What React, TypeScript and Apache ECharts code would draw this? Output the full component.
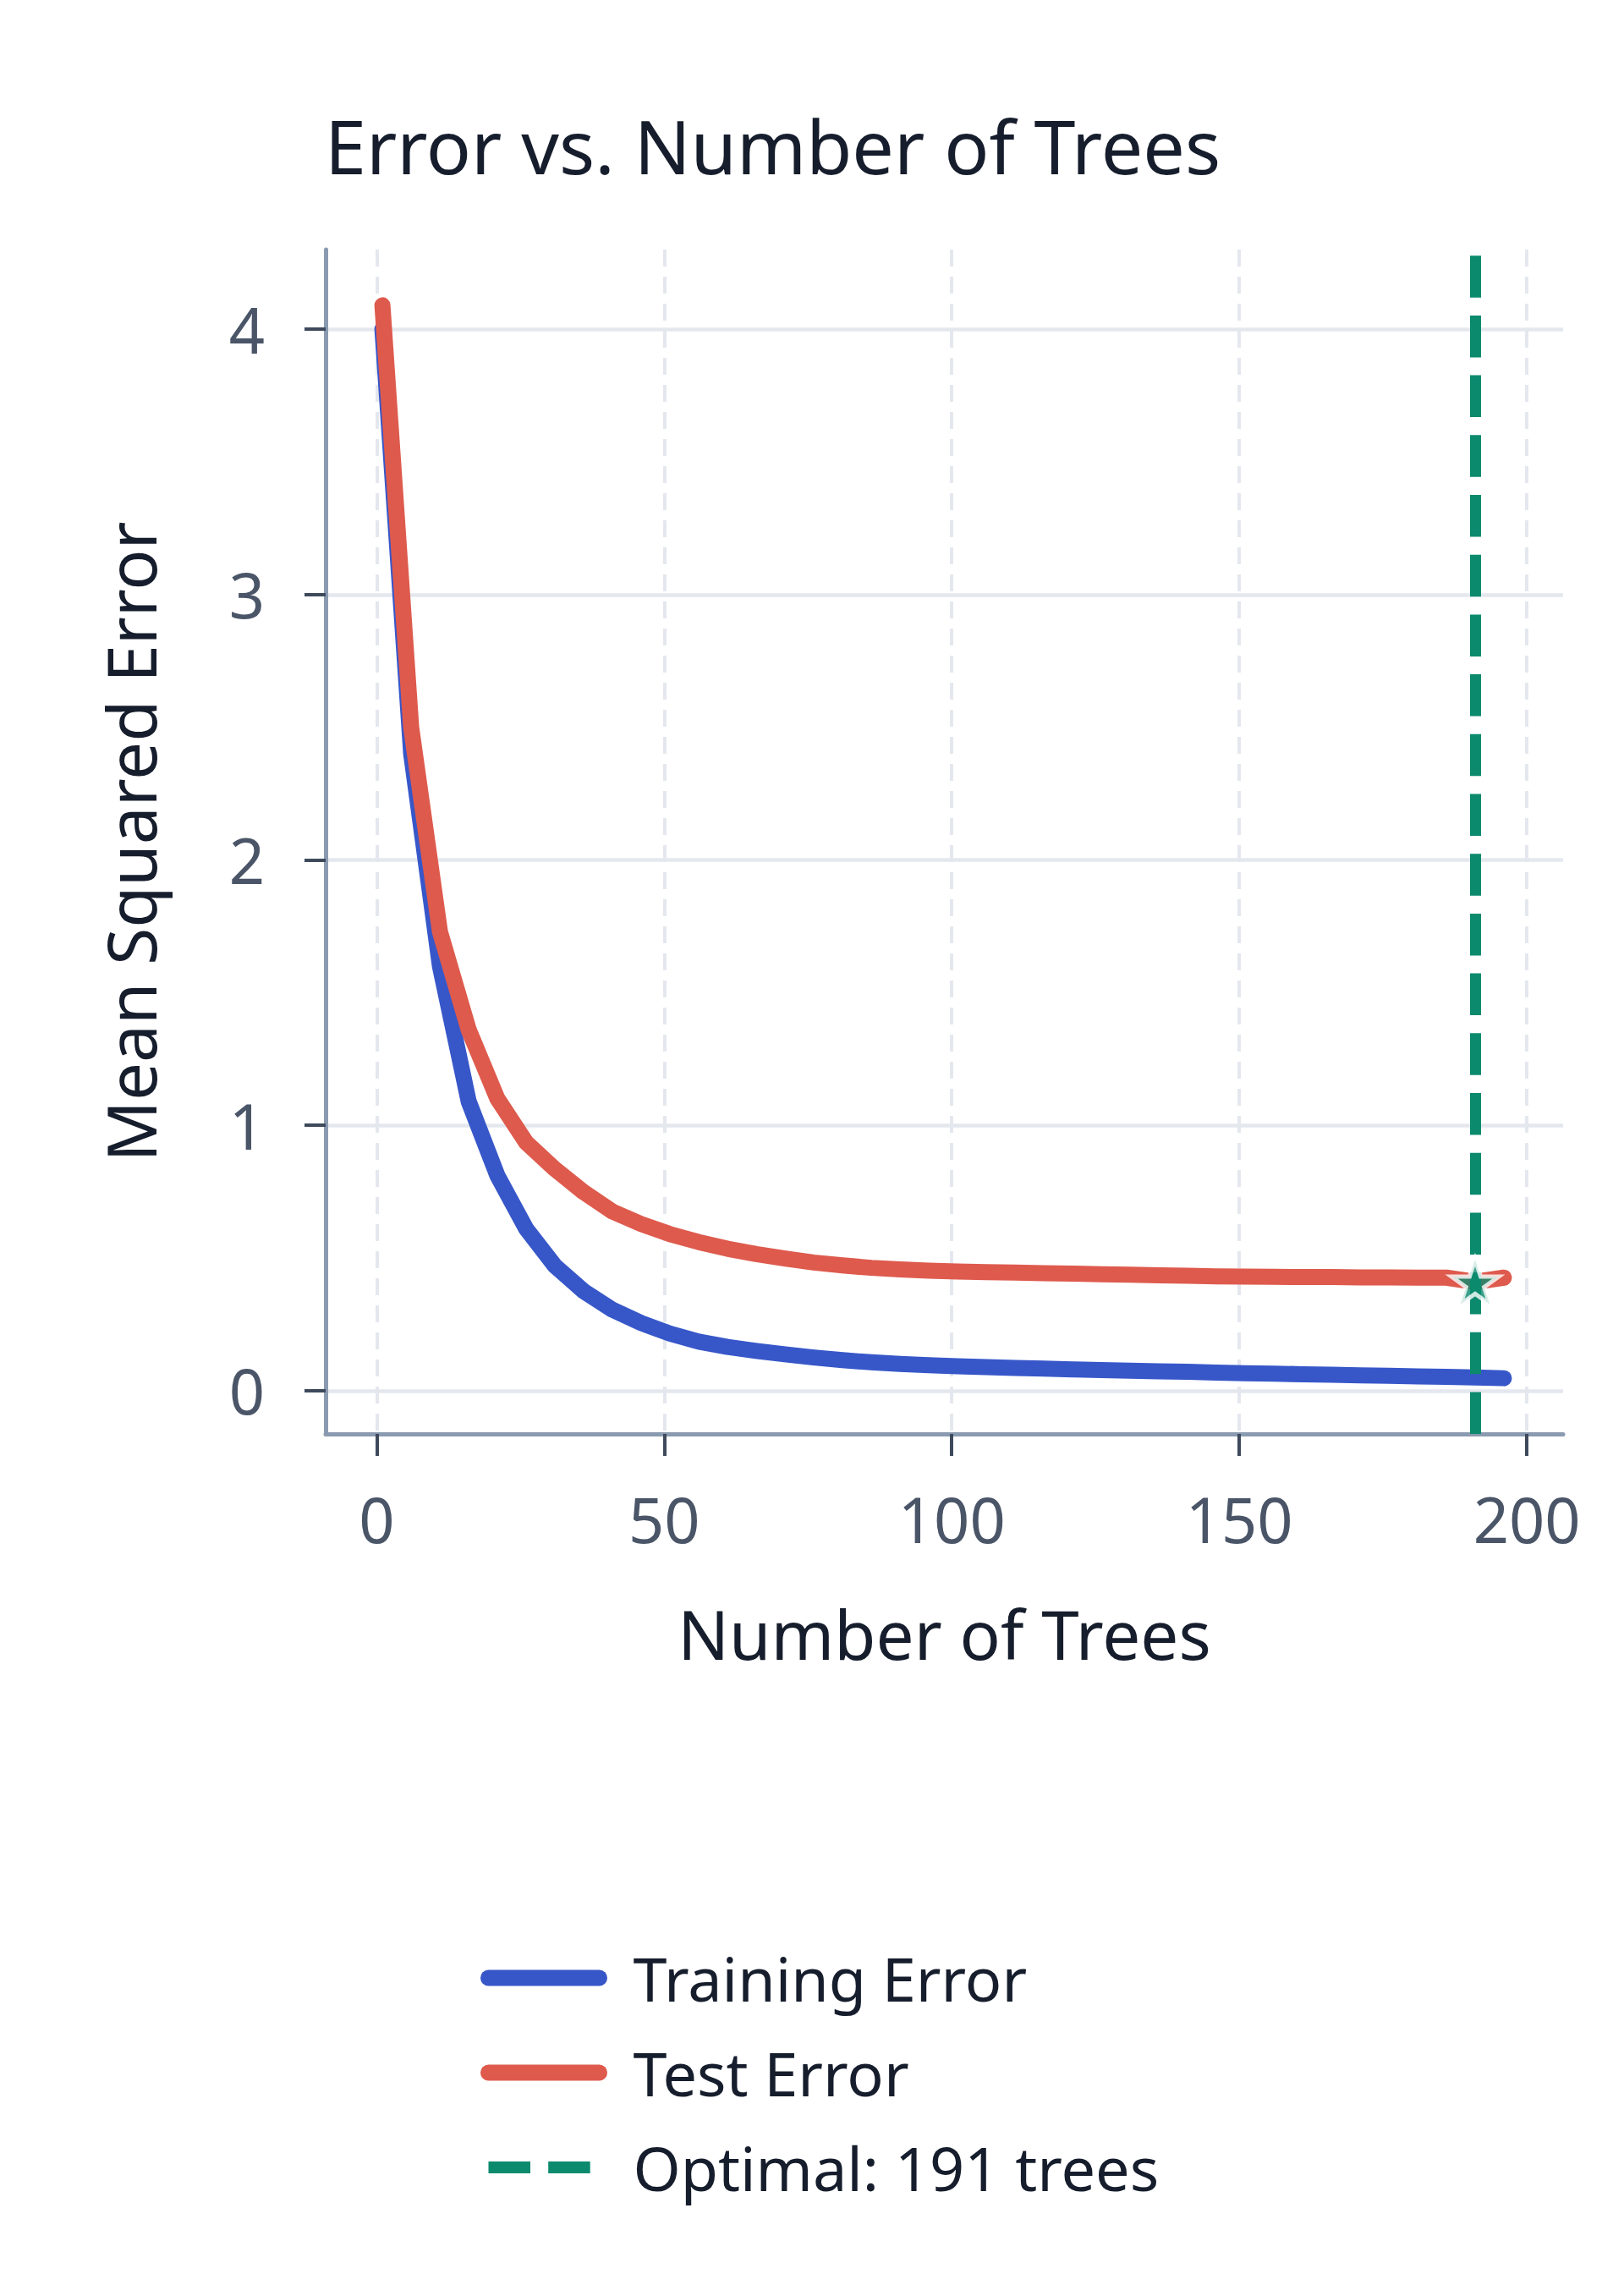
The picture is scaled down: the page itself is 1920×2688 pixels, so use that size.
import { useEffect, useRef } from "react";
import * as echarts from "echarts";

// number of trees at each evaluation step
const treeCounts = [
  1, 6, 11, 16, 21, 26, 31, 36, 41, 46, 51, 56, 61, 66, 71, 76, 81, 86, 91, 96,
  101, 106, 111, 116, 121, 126, 131, 136, 141, 146, 151, 156, 161, 166, 171, 176, 181, 186, 191, 196,
];
const trainingError = [
  4.0, 2.4, 1.6, 1.09, 0.81, 0.61, 0.47, 0.375, 0.305, 0.255, 0.215, 0.185, 0.165, 0.15, 0.137, 0.125,
  0.115, 0.107, 0.101, 0.096, 0.092, 0.089, 0.086, 0.083, 0.08, 0.078, 0.075, 0.073, 0.071, 0.068,
  0.066, 0.064, 0.062, 0.06, 0.058, 0.056, 0.054, 0.052, 0.05, 0.047,
];
const testError = [
  4.09, 2.5, 1.73, 1.36, 1.1, 0.935, 0.835, 0.748, 0.675, 0.628, 0.59, 0.56, 0.535, 0.515, 0.498, 0.483,
  0.472, 0.463, 0.457, 0.452, 0.449, 0.447, 0.445, 0.443, 0.441, 0.439, 0.437, 0.435, 0.433, 0.431,
  0.43, 0.429, 0.428, 0.428, 0.427, 0.427, 0.426, 0.426, 0.41, 0.426,
];
const optimalTrees = 191;
const xTicks = [0, 50, 100, 150, 200];
const yTicks = [0, 1, 2, 3, 4];

const FONT = "Noto Sans";
const BLUE = "#3757c9";
const RED = "#de5a4d";
const GREEN = "#0b8a6e";
const DARK = "#161d2c";
const TICK_TEXT = "#4a5568";
const GRID = "#e4e8ee";
const DASH = [49.5, 21.2];
const STAR =
  "path://M50 0 L61.23 34.55 L97.55 34.55 L68.17 55.9 L79.39 90.45 L50 69.1 L20.61 90.45 L31.83 55.9 L2.45 34.55 L38.77 34.55 Z";

const optimalTestError = testError[treeCounts.indexOf(optimalTrees)];

const axisCommon = {
  type: "value" as const,
  nameLocation: "middle" as const,
  nameTextStyle: { fontFamily: FONT, fontSize: 80, color: DARK, lineHeight: 80 },
  axisLine: { show: true, onZero: false, lineStyle: { color: "#8a9ab0", width: 5 } },
};

const option = {
  animation: false,
  backgroundColor: "#ffffff",
  title: {
    text: "Error vs. Number of Trees",
    left: 384,
    top: 122,
    padding: 0,
    textStyle: { fontFamily: FONT, fontSize: 88, fontWeight: "normal", color: DARK, lineHeight: 100 },
  },
  grid: { left: 385, top: 295, width: 1463, height: 1400, containLabel: false },
  legend: {
    orient: "vertical",
    left: 568,
    top: 2298,
    padding: 0,
    itemWidth: 131,
    itemHeight: 40,
    itemGap: 32,
    selectedMode: false,
    data: [
      { name: "Training Error" },
      { name: "Test Error" },
      { name: "Optimal: 191 trees", lineStyle: { width: 14 } },
    ],
    itemStyle: { opacity: 0 },
    lineStyle: { width: 19 },
    textStyle: { fontFamily: FONT, fontSize: 72, color: DARK, lineHeight: 80, padding: [0, 0, 0, 35] },
  },
  xAxis: {
    ...axisCommon,
    min: -8.87,
    max: 206.3,
    name: "Number of Trees",
    nameGap: 195,
    axisTick: { show: true, length: 26, customValues: xTicks, lineStyle: { color: "#3e4a5b", width: 4 } },
    axisLabel: {
      customValues: xTicks,
      margin: 63,
      fontFamily: FONT,
      fontSize: 74,
      lineHeight: 74,
      color: TICK_TEXT,
      formatter: (v: number) => (xTicks.includes(v) ? String(v) : ""),
    },
    splitLine: { show: true, lineStyle: { color: GRID, width: 4, type: [20, 12] } },
  },
  yAxis: {
    ...axisCommon,
    min: -0.163,
    max: 4.3,
    name: "Mean Squared Error",
    nameGap: 192,
    axisTick: { show: true, length: 25, customValues: yTicks, lineStyle: { color: "#3e4a5b", width: 4 } },
    axisLabel: {
      customValues: yTicks,
      margin: 72,
      fontFamily: FONT,
      fontSize: 74,
      lineHeight: 74,
      color: TICK_TEXT,
      formatter: (v: number) => (yTicks.includes(v) ? String(v) : ""),
    },
    splitLine: { show: true, lineStyle: { color: GRID, width: 4.5, type: "solid" } },
  },
  series: [
    {
      type: "line",
      name: "Training Error",
      data: treeCounts.map((t, i) => [t, trainingError[i]]),
      symbol: "none",
      color: BLUE,
      lineStyle: { color: BLUE, width: 19, cap: "round", join: "round" },
      silent: true,
      z: 2,
    },
    {
      type: "line",
      name: "Test Error",
      data: treeCounts.map((t, i) => [t, testError[i]]),
      symbol: "none",
      color: RED,
      lineStyle: { color: RED, width: 19, cap: "round", join: "round" },
      silent: true,
      z: 3,
    },
    {
      type: "line",
      name: "Optimal: 191 trees",
      data: [],
      symbol: "none",
      color: GREEN,
      lineStyle: { color: GREEN, width: 13, type: DASH, cap: "butt" },
      silent: true,
      z: 4,
      markLine: {
        silent: true,
        symbol: "none",
        label: { show: false },
        lineStyle: { color: GREEN, width: 13, type: DASH },
        data: [{ xAxis: optimalTrees }],
      },
    },
    {
      type: "scatter",
      name: "Optimal point",
      data: [[optimalTrees, optimalTestError]],
      symbol: STAR,
      symbolSize: [56, 53],
      itemStyle: {
        color: GREEN,
        borderColor: "#ffffff",
        borderWidth: 5,
        borderJoin: "miter",
        borderMiterLimit: 10,
      },
      silent: true,
      z: 5,
    },
  ],
};

export default function App() {
  const chartRef = useRef<HTMLDivElement>(null);

  useEffect(() => {
    document.body.style.margin = "0";
    const chart = echarts.init(chartRef.current!, null, { renderer: "svg" });
    chart.setOption(option);
    return () => {
      chart.dispose();
    };
  }, []);

  return <div ref={chartRef} style={{ width: 1920, height: 2688 }} />;
}
